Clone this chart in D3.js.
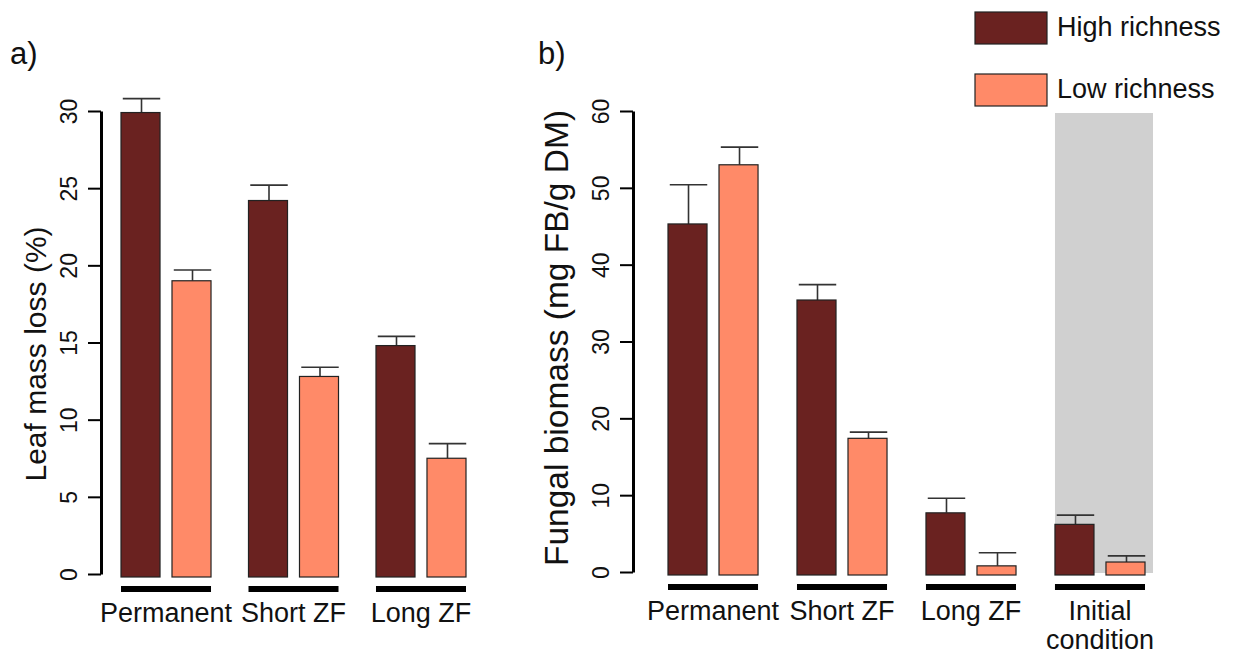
<!DOCTYPE html>
<html>
<head>
<meta charset="utf-8">
<script src="https://cdn.jsdelivr.net/npm/d3@7"></script>
<style>
  body { margin: 0; background: #fff; }
  svg text { font-family: "Liberation Sans", Arial, sans-serif; }
</style>
</head>
<body>
<svg id="chart" width="1233" height="656"></svg>
<script>
// data
var seriesNames = ['High richness', 'Low richness'];
var groupsA = ['Permanent', 'Short ZF', 'Long ZF'];
var lossHigh = [29.9, 24.2, 14.8];
var lossHighSE = [0.9, 1.0, 0.6];
var lossLow = [19.0, 12.8, 7.5];
var lossLowSE = [0.7, 0.6, 0.95];
var ticksA = [0, 5, 10, 15, 20, 25, 30];

var groupsB = ['Permanent', 'Short ZF', 'Long ZF', 'Initial condition'];
var biomassHigh = [45.3, 35.4, 7.7, 6.2];
var biomassHighSE = [5.1, 2.0, 1.9, 1.2];
var biomassLow = [53.0, 17.4, 0.8, 1.3];
var biomassLowSE = [2.3, 0.8, 1.7, 0.8];
var ticksB = [0, 10, 20, 30, 40, 50, 60];

var colors = d3.scaleOrdinal().domain(seriesNames).range(['#6a2220', '#ff8a68']);

var svg = d3.select('#chart');

function panel(opt) {
  var g = svg.append('g');
  var rows = opt.groups.map(function(name, i) {
    return {
      name: name,
      bars: [
        {s: seriesNames[0], v: opt.high[i], se: opt.highSE[i]},
        {s: seriesNames[1], v: opt.low[i], se: opt.lowSE[i]}
      ]
    };
  });

  var y = d3.scaleLinear().domain(opt.yDomain).range(opt.yRange);
  var x0 = d3.scaleBand().domain(opt.groups).range(opt.xRange)
      .paddingInner(opt.padInner).paddingOuter(0);
  var x1 = d3.scaleBand().domain(seriesNames).range([0, x0.bandwidth()])
      .paddingInner(0.235).paddingOuter(0);

  // grey shading behind the initial condition
  if (opt.shade) {
    g.append('rect')
      .attr('x', x0(opt.shade))
      .attr('y', y(opt.yDomain[1]) + 2)
      .attr('width', x0.bandwidth() + 8)
      .attr('height', y(0) - y(opt.yDomain[1]) - 1)
      .attr('fill', '#d0d0d0');
  }

  // axis
  var axis = d3.axisLeft(y).tickValues(opt.ticks).tickSize(13).tickSizeOuter(0);
  var ax = g.append('g')
      .attr('transform', 'translate(' + opt.axisX + ',0)')
      .call(axis)
      .attr('font-family', null);
  ax.select('.domain').attr('stroke', '#000').attr('stroke-width', 3);
  ax.selectAll('.tick line').attr('stroke', '#000').attr('stroke-width', 2);
  ax.selectAll('.tick text')
      .attr('x', null).attr('dy', null)
      .attr('transform', 'translate(-24,0) rotate(-90)')
      .attr('text-anchor', 'middle')
      .style('font-size', '23px')
      .attr('fill', '#111');

  g.append('text')
      .attr('transform', 'translate(' + opt.labelX + ',' + opt.labelY + ') rotate(-90)')
      .attr('text-anchor', 'middle')
      .style('font-size', opt.labelSize + 'px')
      .attr('fill', '#111')
      .text(opt.yLabel);

  g.append('text')
      .attr('x', opt.tagX).attr('y', 64)
      .style('font-size', '31px')
      .attr('fill', '#111')
      .text(opt.tag);

  var grp = g.selectAll('.grp').data(rows).join('g')
      .attr('class', 'grp')
      .attr('transform', function(d) { return 'translate(' + x0(d.name) + ',0)'; });

  // error bars (upper only)
  grp.selectAll('.err').data(function(d) { return d.bars; }).join('path')
      .attr('class', 'err')
      .attr('fill', 'none')
      .attr('stroke', '#333')
      .attr('stroke-width', 1.6)
      .attr('d', function(d) {
        var cx = x1(d.s) + x1.bandwidth() / 2 + 1;
        var top = y(d.v + d.se);
        var w = x1.bandwidth() * 0.48;
        return 'M' + cx + ',' + y(d.v) + 'V' + top + 'M' + (cx - w) + ',' + top + 'H' + (cx + w);
      });

  grp.selectAll('.bar').data(function(d) { return d.bars; }).join('rect')
      .attr('class', 'bar')
      .attr('x', function(d) { return x1(d.s); })
      .attr('width', x1.bandwidth())
      .attr('y', function(d) { return y(d.v); })
      .attr('height', function(d) { return y(0) - y(d.v) + 3; })
      .attr('fill', function(d) { return colors(d.s); })
      .attr('stroke', '#222')
      .attr('stroke-width', 1.2);

  // black line under each group
  grp.append('rect')
      .attr('x', 0)
      .attr('y', y(0) + 12)
      .attr('width', x0.bandwidth())
      .attr('height', 6)
      .attr('fill', '#000');

  grp.append('text')
      .attr('x', x0.bandwidth() / 2)
      .attr('y', y(0) + 48)
      .attr('text-anchor', 'middle')
      .style('font-size', '27px')
      .attr('fill', '#111')
      .each(function(d) {
        var words = d.name === 'Initial condition' ? ['Initial', 'condition'] : [d.name];
        var t = d3.select(this);
        words.forEach(function(w, i) {
          t.append('tspan').attr('x', x0.bandwidth() / 2).attr('dy', i ? 29 : 0).text(w);
        });
      });
}

panel({
  groups: groupsA, high: lossHigh, highSE: lossHighSE, low: lossLow, lowSE: lossLowSE,
  ticks: ticksA, yDomain: [0, 30], yRange: [574, 111],
  xRange: [121, 466], padInner: 0.294, axisX: 101,
  yLabel: 'Leaf mass loss (%)', labelX: 46, labelY: 354, labelSize: 30,
  tag: 'a)', tagX: 10
});

panel({
  groups: groupsB, high: biomassHigh, highSE: biomassHighSE, low: biomassLow, lowSE: biomassLowSE,
  ticks: ticksB, yDomain: [0, 60], yRange: [572, 111],
  xRange: [668, 1145], padInner: 0.302, axisX: 633, shade: 'Initial condition',
  yLabel: 'Fungal biomass (mg FB/g DM)', labelX: 568, labelY: 338, labelSize: 33.5,
  tag: 'b)', tagX: 538
});

// legend
var legend = svg.append('g').selectAll('g').data(seriesNames).join('g')
    .attr('transform', function(d, i) { return 'translate(975,' + (12 + i * 62) + ')'; });
legend.append('rect')
    .attr('width', 72).attr('height', 32)
    .attr('fill', function(d) { return colors(d); })
    .attr('stroke', '#222').attr('stroke-width', 1.2);
legend.append('text')
    .attr('x', 82).attr('y', 24)
    .style('font-size', '27px')
    .attr('fill', '#111')
    .text(function(d) { return d; });
</script>
</body>
</html>
